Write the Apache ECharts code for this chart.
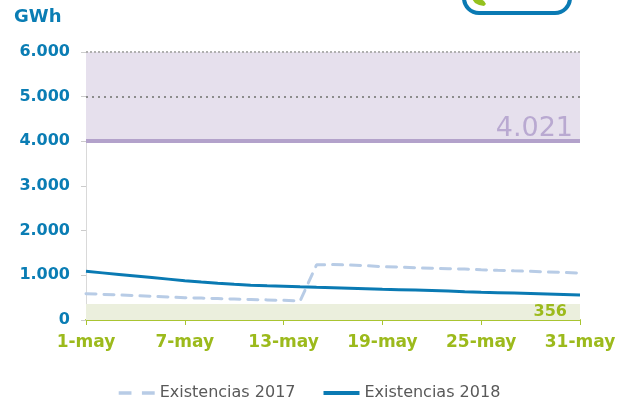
<!DOCTYPE html>
<html>
<head>
<meta charset="utf-8">
<script src="https://cdn.jsdelivr.net/npm/echarts@6/dist/echarts.min.js"></script>
<style>html,body{margin:0;padding:0;background:#fff}#c{width:619px;height:401px}</style>
</head>
<body>
<div id="c"></div>
<script>
var categories = [];
for (var d = 1; d <= 31; d++) categories.push(d + '-may');
var exist2017 = [590,575,560,545,530,515,500,490,480,470,460,450,440,425,1235,1240,1230,1215,1195,1185,1170,1160,1150,1140,1125,1112,1100,1090,1075,1065,1052];
var exist2018 = [1090,1055,1020,985,950,915,880,850,822,798,778,765,755,743,732,722,712,702,690,680,670,660,648,634,622,612,602,592,582,572,562];
var yTicks = [0,1000,2000,3000,4000,5000,6000];
var minLevel = 356;
var maxLevel = 4021;
var capacity = 6000;

function fmt(v){ return String(v).replace(/\B(?=(\d{3})+(?!\d))/g, '.'); }

var chart = echarts.init(document.getElementById('c'));
var blue = '#0a7db4', green = '#9cba1c', font = 'DejaVu Sans';
chart.setOption({
  animation: false,
  textStyle: {fontFamily: font},
  grid: {left: 86, right: 39, top: 52, bottom: 81},
  graphic: [
    {type: 'text', left: 14, top: 8, style: {text: 'GWh', fill: blue, font: 'bold 18px "DejaVu Sans"'}},
    {type: 'rect', shape: {x: 464, y: -32, width: 106, height: 45, r: 15}, style: {fill: 'none', stroke: '#0a7ab3', lineWidth: 4}},
    {type: 'polygon', shape: {points: [[472,-1],[475,3],[479,5],[484,6],[486,4],[484,1],[481,-1]]}, style: {fill: '#94c11f'}}
  ],
  legend: {
    top: 380, left: 'center', itemWidth: 36, itemHeight: 4, itemGap: 28,
    textStyle: {fontSize: 16, color: '#595959', fontFamily: font},
    data: [
      {name: 'Existencias 2017', icon: 'path://M0,0h11v3h-11z M20,0h11v3h-11z'},
      {name: 'Existencias 2018', icon: 'rect'}
    ]
  },
  xAxis: {
    type: 'category', data: categories, boundaryGap: false,
    axisLine: {lineStyle: {color: '#a9c431', width: 2}},
    axisTick: {show: true, interval: 5, length: 5, lineStyle: {color: '#a9c431', width: 1}},
    axisLabel: {interval: 5, color: green, fontWeight: 'bold', fontSize: 17, margin: 14, fontFamily: font},
    splitLine: {show: false}
  },
  yAxis: {
    type: 'value', min: 0, max: 6000, interval: 1000,
    axisLine: {show: true, lineStyle: {color: '#d9d9d9', width: 1}},
    axisTick: {show: true, length: 5, lineStyle: {color: '#cccccc'}},
    axisLabel: {color: blue, fontWeight: 'bold', fontSize: 16, margin: 16, fontFamily: font,
      formatter: function(v){ return yTicks.indexOf(v) >= 0 ? fmt(v) : ''; }},
    splitLine: {show: false}
  },
  series: [
    {
      name: 'Existencias 2017', type: 'line', data: exist2017, symbol: 'none',
      lineStyle: {color: '#b8cce6', width: 3, type: [10, 8], cap: 'round'},
      itemStyle: {color: '#b8cce6'}, z: 3,
      markArea: {
        silent: true,
        data: [
          [{yAxis: 0, itemStyle: {color: '#ebefdd'}, label: {show: true, position: 'insideRight', formatter: String(minLevel), color: green, fontWeight: 'bold', fontSize: 16, offset: [-8, 0]}}, {yAxis: minLevel}],
          [{yAxis: maxLevel, itemStyle: {color: '#e6e0ed'}, label: {show: false}}, {yAxis: capacity}]
        ]
      },
      markLine: {
        silent: true, symbol: 'none',
        data: [
          {yAxis: 5000, lineStyle: {color: '#8c8c8c', type: [2, 4], width: 2}, label: {show: false}},
          {yAxis: 6000, lineStyle: {color: '#b0b0b0', type: [2, 2], width: 2}, label: {show: false}},
          {yAxis: maxLevel, lineStyle: {color: '#b3a2cb', type: 'solid', width: 4},
           label: {show: true, position: 'insideEndTop', formatter: fmt(maxLevel), color: '#b9a9d1', fontSize: 27, distance: [7, -2]}}
        ]
      }
    },
    {
      name: 'Existencias 2018', type: 'line', data: exist2018, symbol: 'none',
      lineStyle: {color: '#0a7ab3', width: 3}, itemStyle: {color: '#0a7ab3'}, z: 4
    }
  ]
});
</script>
</body>
</html>
